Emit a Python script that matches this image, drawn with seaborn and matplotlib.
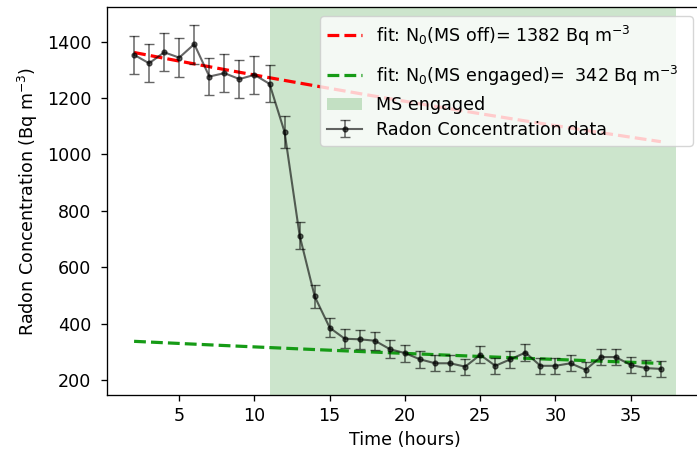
import numpy as np
import pandas as pd
import matplotlib
matplotlib.use("Agg")
import matplotlib.pyplot as plt
import seaborn as sns

# Hourly radon measurements
hours = [2, 3, 4, 5, 6, 7, 8, 9, 10, 11, 12, 13, 14, 15, 16, 17, 18, 19, 20,
         21, 22, 23, 24, 25, 26, 27, 28, 29, 30, 31, 32, 33, 34, 35, 36, 37]
radon = [1353, 1323, 1362, 1343, 1391, 1276, 1288, 1267, 1282, 1250, 1079, 712,
         496, 385, 346, 344, 339, 309, 295, 273, 259, 259, 247, 289, 250, 273,
         297, 250, 250, 259, 236, 281, 281, 253, 242, 239]
radon_err = [68, 67, 68, 69, 69, 67, 68, 66, 68, 66, 57, 48, 40, 34, 33, 33, 32,
             31, 30, 29, 28, 28, 28, 30, 28, 29, 30, 28, 28, 28, 27, 29, 29, 28,
             27, 27]

# Fitted initial concentrations
n0_off = 1382
n0_engaged = 342

# Period with the mitigation system running
ms_start, ms_end = 11, 38

# Rn-222 decay constant (per hour), half-life 3.8235 days
decay_const = np.log(2) / (3.8235 * 24)

plt.rcParams.update({
    "font.size": 12.6,
    "axes.linewidth": 0.95,
    "xtick.major.size": 4.1,
    "ytick.major.size": 4.1,
    "xtick.major.width": 0.95,
    "ytick.major.width": 0.95,
    "xtick.major.pad": 4.5,
    "ytick.major.pad": 7.0,
})

fig = plt.figure(figsize=(6.97, 4.5), dpi=100)
ax = fig.add_axes([0.1535, 0.1222, 0.8551, 0.8622])

fit_t = np.asarray(hours, dtype=float)
fits = pd.DataFrame({
    "t": fit_t,
    "off": n0_off * np.exp(-decay_const * fit_t),
    "engaged": n0_engaged * np.exp(-decay_const * fit_t),
})

sns.lineplot(data=fits, x="t", y="off", ax=ax, color="red", linestyle="--",
             linewidth=2.3, label=r"fit: N$_0$(MS off)=%5.0f Bq m$^{-3}$" % n0_off)
sns.lineplot(data=fits, x="t", y="engaged", ax=ax, color="#169b16", linestyle="--",
             linewidth=2.3,
             label=r"fit: N$_0$(MS engaged)=%5.0f Bq m$^{-3}$" % n0_engaged)

ax.axvspan(ms_start, ms_end, color="green", alpha=0.2, linewidth=0, label="MS engaged")

ax.errorbar(hours, radon, yerr=radon_err, fmt=".-", color="black", alpha=0.6,
            markersize=7, linewidth=1.5, capsize=3.5, elinewidth=1.1,
            label="Radon Concentration data")

ax.set_xlabel("Time (hours)")
ax.set_ylabel(r"Radon Concentration (Bq m$^{-3}$)", labelpad=5)
ax.set_xticks([5, 10, 15, 20, 25, 30, 35])
ax.set_yticks([200, 400, 600, 800, 1000, 1200, 1400])

leg = ax.legend(loc="upper right", framealpha=0.8, labelspacing=0.38,
                mode="expand", borderaxespad=0,
                bbox_to_anchor=(0.3574, 0.0, 0.6258, 0.9758))

# Give the two fit entries (with sub/superscripts) taller rows
row_extra = [(2.1, 10.7), (4.5, 5.7), (0.0, 0.0), (0.0, 0.0)]  # (above, below) in points
rows = leg._legend_handle_box.get_children()[0].get_children()
for row, (above, below) in zip(rows, row_extra):
    handle_box = row.get_children()[0]
    handle_box.height += above + below
    handle_box.ydescent += below

fig.savefig("out.png", dpi=100)
